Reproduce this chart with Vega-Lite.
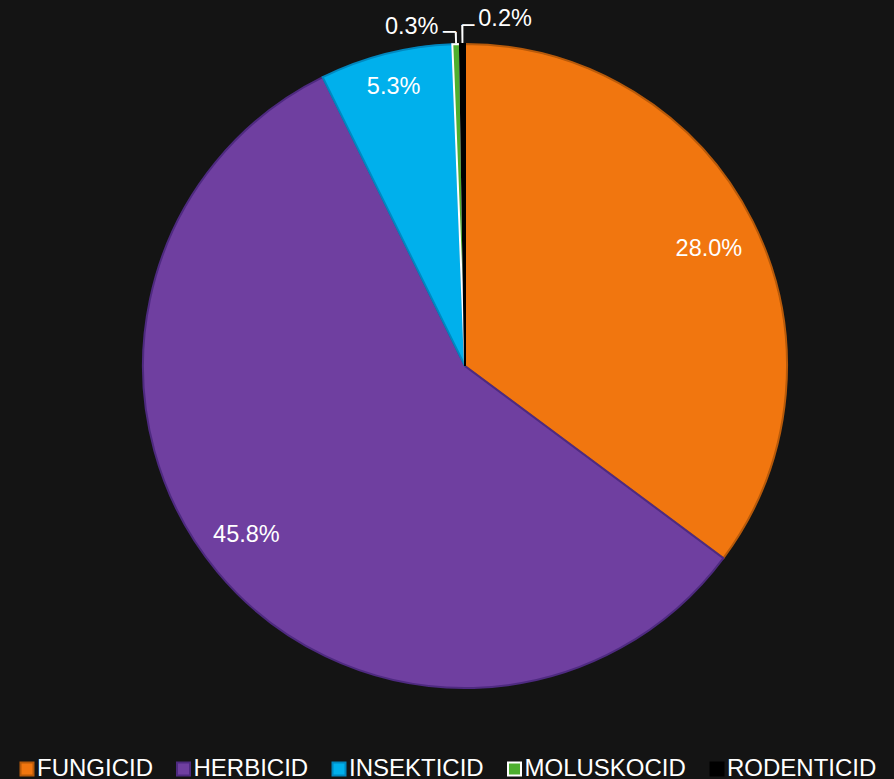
{
  "$schema": "https://vega.github.io/schema/vega-lite/v6.json",
  "width": 858,
  "height": 732,
  "autosize": "none",
  "padding": {"left": 36, "top": 0, "right": 0, "bottom": 47},
  "background": "#141414",
  "config": {"view": {"stroke": null}, "font": "Liberation Sans"},
  "data": {
    "values": [
      {"category": "FUNGICID", "share": 0.280},
      {"category": "HERBICID", "share": 0.458},
      {"category": "INSEKTICID", "share": 0.053},
      {"category": "MOLUSKOCID", "share": 0.003},
      {"category": "RODENTICID", "share": 0.002}
    ]
  },
  "encoding": {
    "theta": {"field": "share", "type": "quantitative", "stack": true},
    "order": {"field": "category", "type": "nominal", "sort": "ascending"}
  },
  "layer": [
    {
      "mark": {"type": "arc", "radius": 322, "strokeWidth": 2},
      "encoding": {
        "color": {
          "field": "category",
          "type": "nominal",
          "scale": {
            "domain": ["FUNGICID", "HERBICID", "INSEKTICID", "MOLUSKOCID", "RODENTICID"],
            "range": ["#F1760F", "#6F3FA0", "#00B0EC", "#4EAF2F", "#000000"]
          },
          "legend": {
            "orient": "none", "legendX": -21, "legendY": 757, "direction": "horizontal",
            "title": null, "symbolType": "square", "symbolSize": 169, "symbolStrokeWidth": 2,
            "labelFontSize": 24, "labelColor": "#FFFFFF", "labelFont": "Liberation Sans",
            "labelOffset": -2, "columnPadding": 18.5, "labelLimit": 300
          }
        },
        "stroke": {
          "field": "category",
          "type": "nominal",
          "scale": {
            "domain": ["FUNGICID", "HERBICID", "INSEKTICID", "MOLUSKOCID", "RODENTICID"],
            "range": ["#B85A0A", "#4E2A80", "#0088C0", "#FFFFFF", "#000000"]
          },
          "legend": {
            "orient": "none", "legendX": -21, "legendY": 757, "direction": "horizontal",
            "title": null, "symbolType": "square", "symbolSize": 169, "symbolStrokeWidth": 2,
            "labelFontSize": 24, "labelColor": "#FFFFFF", "labelFont": "Liberation Sans",
            "labelOffset": -2, "columnPadding": 18.5, "labelLimit": 300
          }
        }
      }
    },
    {
      "mark": {"type": "arc", "radius": 334, "radius2": 323, "padAngle": 0.0125, "fill": "#FFFFFF"},
      "encoding": {
        "opacity": {"condition": {"test": "datum.category === 'MOLUSKOCID'", "value": 1}, "value": 0}
      }
    },
    {
      "mark": {"type": "arc", "radius": 341, "radius2": 323, "padAngle": 0.0069, "fill": "#FFFFFF"},
      "encoding": {
        "opacity": {"condition": {"test": "datum.category === 'RODENTICID'", "value": 1}, "value": 0}
      }
    },
    {
      "mark": {"type": "text", "radius": 334, "fontSize": 21, "fill": "#FFFFFF", "font": "DejaVu Sans", "align": "center", "dx": -6.5, "dy": 1, "text": "─"},
      "encoding": {
        "opacity": {"condition": {"test": "datum.category === 'MOLUSKOCID'", "value": 1}, "value": 0}
      }
    },
    {
      "mark": {"type": "text", "radius": 341, "fontSize": 20, "fill": "#FFFFFF", "font": "DejaVu Sans", "align": "center", "dx": 6, "dy": 1, "text": "─"},
      "encoding": {
        "opacity": {"condition": {"test": "datum.category === 'RODENTICID'", "value": 1}, "value": 0}
      }
    },
    {
      "mark": {"type": "text", "radius": 278, "fontSize": 23.5, "fill": "#FFFFFF", "font": "Liberation Sans", "dx": -4.5, "dy": 7.5},
      "encoding": {
        "text": {"field": "share", "type": "quantitative", "format": ".1%"},
        "opacity": {"condition": {"test": "datum.category === 'FUNGICID'", "value": 1}, "value": 0}
      }
    },
    {
      "mark": {"type": "text", "radius": 278, "fontSize": 23.5, "fill": "#FFFFFF", "font": "Liberation Sans", "dx": -5, "dy": -9},
      "encoding": {
        "text": {"field": "share", "type": "quantitative", "format": ".1%"},
        "opacity": {"condition": {"test": "datum.category === 'HERBICID'", "value": 1}, "value": 0}
      }
    },
    {
      "mark": {"type": "text", "radius": 278, "fontSize": 23.5, "fill": "#FFFFFF", "font": "Liberation Sans", "dx": -3, "dy": -10},
      "encoding": {
        "text": {"field": "share", "type": "quantitative", "format": ".1%"},
        "opacity": {"condition": {"test": "datum.category === 'INSEKTICID'", "value": 1}, "value": 0}
      }
    },
    {
      "mark": {"type": "text", "radius": 344, "fontSize": 23.5, "fill": "#FFFFFF", "font": "Liberation Sans", "align": "right", "dx": -17, "dy": 5},
      "encoding": {
        "text": {"field": "share", "type": "quantitative", "format": ".1%"},
        "opacity": {"condition": {"test": "datum.category === 'MOLUSKOCID'", "value": 1}, "value": 0}
      }
    },
    {
      "mark": {"type": "text", "radius": 344, "fontSize": 23.5, "fill": "#FFFFFF", "font": "Liberation Sans", "align": "left", "dx": 16, "dy": -3},
      "encoding": {
        "text": {"field": "share", "type": "quantitative", "format": ".1%"},
        "opacity": {"condition": {"test": "datum.category === 'RODENTICID'", "value": 1}, "value": 0}
      }
    }
  ]
}
